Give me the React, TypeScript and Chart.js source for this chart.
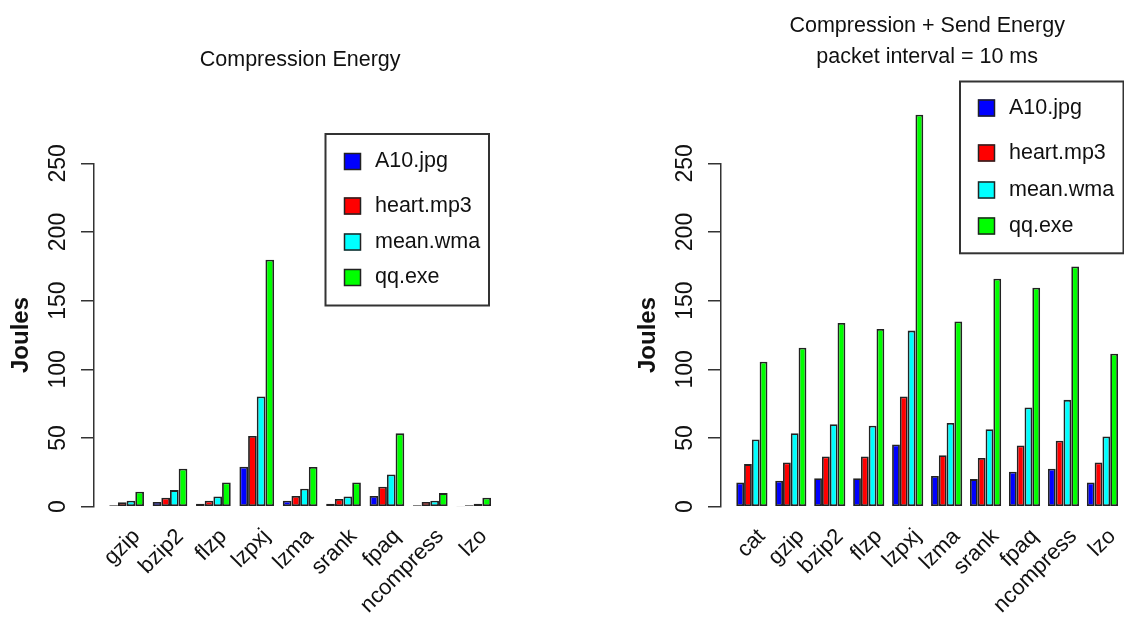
import React, { useEffect, useRef } from "react";
import { Chart, registerables } from "chart.js";

Chart.register(...registerables);

const FONT_FAMILY = "'Liberation Sans', Arial, Helvetica, sans-serif";
const TEXT_COLOR = "#111111";

const seriesLabels = ["A10.jpg", "heart.mp3", "mean.wma", "qq.exe"];
const seriesColors = ["#0000FF", "#FF0000", "#00FFFF", "#00FF00"];
const yTickValues = [0, 50, 100, 150, 200, 250];

// Left panel: Compression Energy
const compCategories = ["gzip", "bzip2", "flzp", "lzpxj", "lzma", "srank", "fpaq", "ncompress", "lzo"];
const compA10 = [1.0, 3.4, 2.2, 29.1, 4.4, 2.2, 7.8, 1.0, 0.3];
const compHeart = [3.2, 6.6, 4.4, 51.5, 7.8, 5.6, 14.6, 3.4, 1.0];
const compMean = [4.4, 12.1, 7.5, 80.3, 13.1, 7.5, 23.5, 4.4, 2.2];
const compQQ = [10.9, 27.7, 17.7, 179.8, 28.9, 17.7, 53.4, 9.9, 6.6];

// Right panel: Compression + Send Energy
const sendCategories = ["cat", "gzip", "bzip2", "flzp", "lzpxj", "lzma", "srank", "fpaq", "ncompress", "lzo"];
const sendA10 = [17.7, 18.9, 20.8, 20.8, 45.3, 22.3, 20.1, 25.4, 27.6, 17.7];
const sendHeart = [31.0, 32.2, 36.6, 36.6, 80.2, 37.5, 35.4, 44.6, 48.0, 32.2];
const sendMean = [48.9, 53.5, 60.1, 58.9, 128.2, 61.0, 56.4, 72.2, 77.8, 51.1];
const sendQQ = [105.6, 115.8, 133.7, 129.4, 285.4, 134.9, 165.9, 159.4, 174.9, 111.4];

const leftTitle = ["Compression Energy"];
const rightTitle = ["Compression + Send Energy", "packet interval = 10 ms"];

const CANVAS_W = 540;
const CANVAS_H = 632;
const AXIS_X = 94;
const PLOT_RIGHT = 506.3;
const PLOT_TOP = 163.3;
const PLOT_BOTTOM = 506.7;

type Box = { l: number; t: number; r: number; b: number };

function titlePlugin(lines: string[], baselines: number[]) {
  return {
    id: "panelTitle",
    afterDraw(chart: any) {
      const { ctx, chartArea } = chart;
      const cx = (chartArea.left + chartArea.right) / 2;
      ctx.save();
      ctx.fillStyle = TEXT_COLOR;
      ctx.font = `21.5px ${FONT_FAMILY}`;
      ctx.textAlign = "center";
      ctx.textBaseline = "alphabetic";
      lines.forEach((t, i) => ctx.fillText(t, cx, baselines[i]));
      ctx.restore();
    },
  };
}

function legendPlugin(box: Box, rows: number[], sqX: number, txtX: number) {
  return {
    id: "panelLegend",
    afterDraw(chart: any) {
      const { ctx } = chart;
      ctx.save();
      ctx.fillStyle = "#ffffff";
      ctx.fillRect(box.l, box.t, box.r - box.l, box.b - box.t);
      ctx.strokeStyle = "#333333";
      ctx.lineWidth = 2;
      ctx.strokeRect(box.l, box.t, box.r - box.l, box.b - box.t);
      chart.data.datasets.forEach((ds: any, i: number) => {
        const cy = rows[i];
        ctx.fillStyle = ds.backgroundColor;
        ctx.fillRect(sqX, cy - 8.5, 17, 17);
        ctx.lineWidth = 1.5;
        ctx.strokeStyle = "#222222";
        ctx.strokeRect(sqX + 0.5, cy - 8, 16, 16);
        ctx.fillStyle = TEXT_COLOR;
        ctx.font = `21.5px ${FONT_FAMILY}`;
        ctx.textAlign = "left";
        ctx.textBaseline = "middle";
        ctx.fillText(ds.label, txtX, cy);
      });
      ctx.restore();
    },
  };
}

type PanelProps = {
  left: number;
  categories: string[];
  series: number[][];
  titleLines: string[];
  titleBaselines: number[];
  legendBox: Box;
  legendRows: number[];
  legendSqX: number;
  legendTxtX: number;
};

function Panel(p: PanelProps) {
  const ref = useRef<HTMLCanvasElement>(null);
  useEffect(() => {
    if (!ref.current) return;
    const n = p.categories.length;
    const pad = (2 + 0.04 * (5 * n - 1)) / 5;
    const chart = new Chart(ref.current, {
      type: "bar",
      data: {
        datasets: p.series.map((vals, k) => ({
          label: seriesLabels[k],
          data: vals.map((v, i) => ({ x: i, y: v })),
          backgroundColor: seriesColors[k],
          borderColor: "#222222",
          borderWidth: 1.8,
          borderSkipped: false,
          clip: false,
          categoryPercentage: 0.8,
          barPercentage: 1,
        })),
      },
      options: {
        responsive: false,
        animation: false,
        devicePixelRatio: 1,
        layout: { padding: { left: 0, top: PLOT_TOP, right: CANVAS_W - PLOT_RIGHT, bottom: 0 } },
        plugins: {
          legend: { display: false },
          tooltip: { enabled: false },
          title: { display: false },
        },
        scales: {
          x: {
            type: "linear",
            min: -pad,
            max: n - 1 + pad,
            offset: false,
            grid: { display: false, drawTicks: false },
            border: { display: false },
            afterBuildTicks: (s: any) => {
              s.ticks = p.categories.map((_, i) => ({ value: i }));
            },
            afterFit: (s: any) => {
              s.height = CANVAS_H - PLOT_BOTTOM;
            },
            ticks: {
              autoSkip: false,
              minRotation: 45,
              maxRotation: 45,
              padding: 17,
              labelOffset: 10,
              color: TEXT_COLOR,
              font: { size: 22, family: FONT_FAMILY },
              callback: (_v: any, i: number) => p.categories[i],
            },
          },
          y: {
            type: "linear",
            position: "left",
            min: 0,
            max: 250,
            afterBuildTicks: (s: any) => {
              s.ticks = yTickValues.map((v) => ({ value: v }));
            },
            afterFit: (s: any) => {
              s.width = AXIS_X;
            },
            grid: { display: true, drawOnChartArea: false, drawTicks: true, tickLength: 13, color: "#333333", lineWidth: 1.5 },
            border: { display: true, color: "#333333", width: 1.5 },
            ticks: {
              autoSkip: false,
              minRotation: 90,
              maxRotation: 90,
              crossAlign: "center",
              padding: 3,
              color: TEXT_COLOR,
              font: { size: 23, family: FONT_FAMILY },
            },
            title: {
              display: true,
              text: "Joules",
              color: TEXT_COLOR,
              font: { size: 24, weight: "bold", family: FONT_FAMILY },
              padding: { top: 7, bottom: 0 },
            },
          },
        },
      } as any,
      plugins: [
        titlePlugin(p.titleLines, p.titleBaselines),
        legendPlugin(p.legendBox, p.legendRows, p.legendSqX, p.legendTxtX),
      ],
    });
    return () => chart.destroy();
  }, []);
  return (
    <canvas
      ref={ref}
      width={CANVAS_W}
      height={CANVAS_H}
      style={{ position: "absolute", left: p.left, top: 0, width: CANVAS_W, height: CANVAS_H }}
    />
  );
}

export default function App() {
  return (
    <div
      style={{
        position: "absolute",
        left: 0,
        top: 0,
        width: 1124,
        height: 632,
        overflow: "hidden",
        background: "#ffffff",
        fontFamily: FONT_FAMILY,
      }}
    >
      <Panel
        left={0}
        categories={compCategories}
        series={[compA10, compHeart, compMean, compQQ]}
        titleLines={leftTitle}
        titleBaselines={[66]}
        legendBox={{ l: 325.5, t: 134, r: 489, b: 305.5 }}
        legendRows={[161.5, 206, 242, 277.5]}
        legendSqX={344}
        legendTxtX={375}
      />
      <Panel
        left={627}
        categories={sendCategories}
        series={[sendA10, sendHeart, sendMean, sendQQ]}
        titleLines={rightTitle}
        titleBaselines={[31.7, 63.3]}
        legendBox={{ l: 333, t: 81.5, r: 496.5, b: 253.3 }}
        legendRows={[108, 153, 190, 226]}
        legendSqX={351}
        legendTxtX={382}
      />
    </div>
  );
}
